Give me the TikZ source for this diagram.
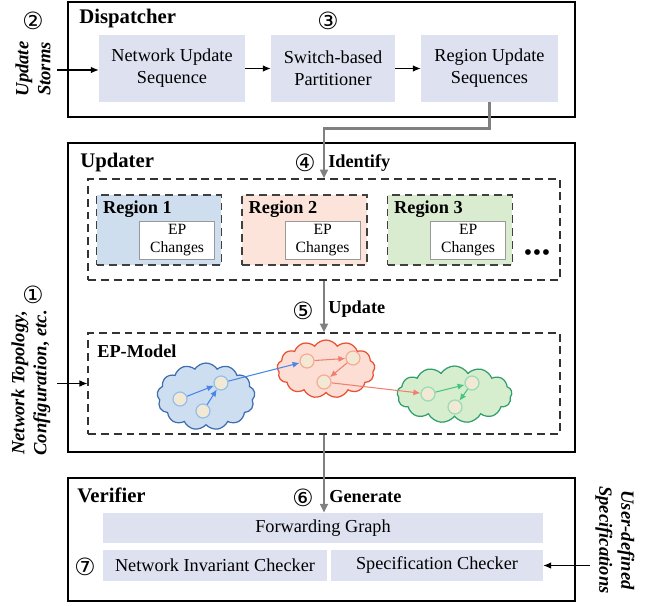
\documentclass[tikz,border=0pt]{standalone}
\usepackage{fontspec}
\setmainfont{Liberation Serif}
\newfontfamily\circfont{DejaVu Sans}
\usetikzlibrary{arrows.meta,calc,shapes.symbols}

\definecolor{boxLav}{RGB}{222,226,240}
\definecolor{regionBlue}{RGB}{207,222,238}
\definecolor{regionRed}{RGB}{252,228,218}
\definecolor{regionGreen}{RGB}{217,236,208}
\definecolor{cloudBlue}{RGB}{204,222,240}
\definecolor{cloudRed}{RGB}{253,222,212}
\definecolor{cloudGreen}{RGB}{214,237,206}
\definecolor{rimBlue}{RGB}{62,110,175}
\definecolor{rimRed}{RGB}{232,80,50}
\definecolor{rimGreen}{RGB}{46,158,106}
\definecolor{ringBlue}{RGB}{150,190,235}
\definecolor{ringRed}{RGB}{248,170,150}
\definecolor{ringGreen}{RGB}{150,220,180}
\definecolor{arrowBlue}{RGB}{74,134,232}
\definecolor{arrowRed}{RGB}{240,128,110}
\definecolor{arrowGreen}{RGB}{72,196,130}
\definecolor{nodeCream}{RGB}{242,233,212}
\definecolor{flowGray}{RGB}{128,128,128}

\begin{document}
\begin{tikzpicture}
[x=0.02cm,y=-0.02cm,
  stageBox/.style={draw,line width=1.6pt,inner sep=0pt,minimum width=10.14cm},%
  stageTitle/.style={anchor=base west,inner sep=0pt,font=\bfseries\fontsize{11.8}{13}\selectfont},%
  stepTitle/.style={anchor=base west,inner sep=0pt,font=\bfseries\fontsize{10.4}{12}\selectfont},%
  stepBox/.style={fill=boxLav,inner sep=0pt,align=center,minimum height=1.34cm,font=\fontsize{10.4}{12.5}\selectfont},%
  checkBox/.style={fill=boxLav,inner sep=0pt,minimum height=0.62cm,font=\fontsize{10.4}{12.5}\selectfont},%
  dashBox/.style={draw=black!80,dashed,dash pattern=on 4.5pt off 2.8pt,line width=0.75pt,inner sep=0pt,minimum width=9.44cm,minimum height=2.02cm},%
  regionBox/.style={draw=black!75,dash pattern=on 4.5pt off 2.8pt,line width=0.75pt,inner sep=0pt,minimum width=2.5cm,minimum height=1.4cm},%
  regionLabel/.style={anchor=base west,inner sep=0pt,font=\bfseries\fontsize{10.4}{12}\selectfont},%
  epBox/.style={draw=black!40,fill=white,line width=0.6pt,inner sep=0pt,align=center,minimum width=1.5cm,minimum height=0.76cm,font=\fontsize{8.9}{10.5}\selectfont},%
  cloudShape/.style={cloud,cloud puffs=13,cloud puff arc=115,cloud ignores aspect,line width=0.7pt,inner sep=0pt},%
  epNode/.style={shape=circle,fill=nodeCream,line width=0.7pt,inner sep=0pt,minimum size=0.28cm},%
  epArrow/.style={-{Latex[length=4pt,width=3.5pt]},line width=0.6pt},%
  darkArrow/.style={-{Latex[length=4.5pt,width=3.8pt]},line width=0.6pt},%
  grayArrow/.style={-{Triangle[length=5pt,width=4.5pt]},line width=1.4pt,color=flowGray},%
  stepNum/.style={inner sep=0pt,font=\circfont\fontsize{13.5}{14}\selectfont},%
  sideText/.style={inner sep=0pt,align=center,font=\bfseries\itshape\fontsize{10.6}{12.5}\selectfont}]
\useasboundingbox (0,0) rectangle (652,605);

%% stages
\node (dispatcher) at (321.5,59.5) [stageBox,minimum height=2.30cm] {};
\node (updater) at (321.5,297.5) [stageBox,minimum height=6.18cm] {};
\node (verifier) at (321.5,539.5) [stageBox,minimum height=2.46cm] {};
\node (dispTitle) at (79,23) [stageTitle] {Dispatcher};
\node (updTitle) at (80,167) [stageTitle] {Updater};
\node (verTitle) at (77,502) [stageTitle] {Verifier};

%% dispatcher steps
\node (nus) at (172,68.5) [stepBox,minimum width=2.92cm] {Network Update\\Sequence};
\node (sbp) at (333,68.5) [stepBox,minimum width=2.48cm] {Switch-based\\Partitioner};
\node (rus) at (489.5,68.5) [stepBox,minimum width=2.74cm] {Region Update\\Sequences};

%% regions
\node (regions) at (324,229.5) [dashBox] {};
\foreach \regname/\x/\regfill/\regnum in {regA/159/regionBlue/1, regB/304.5/regionRed/2, regC/450/regionGreen/3}
{
  \node (\regname) at (\x,230) [regionBox,fill=\regfill] {};
  \node (\regname-lbl) at ($(\regname.north west)+(7,19)$) [regionLabel] {Region \regnum};
  \node (\regname-ep) at ($(\regname.south east)+(-7,-6)$) [epBox,anchor=south east] {EP\\Changes};
}
\node (dots) at (537,255) [inner sep=0pt,font=\bfseries\fontsize{12}{12}\selectfont] {•\kern0.9pt•\kern0.9pt•};

%% EP-Model
\node (epmodel) at (324,383.5) [dashBox] {};
\node (epTitle) at (97,357) [stepTitle] {EP-Model};
\node (cloudA) at (206,396.5) [cloudShape,draw=rimBlue,fill=cloudBlue,minimum width=1.96cm,minimum height=1.34cm] {};
\node (cloudB) at (326,369) [cloudShape,draw=rimRed,fill=cloudRed,minimum width=1.96cm,minimum height=1.16cm] {};
\node (cloudC) at (454.5,394.5) [cloudShape,draw=rimGreen,fill=cloudGreen,minimum width=2.3cm,minimum height=1.14cm] {};
\foreach \nodename/\x/\y/\ring in {b1/180/399/ringBlue, b2/221/383/ringBlue, b3/203/411/ringBlue,
  r1/307/361/ringRed, r2/353/358/ringRed, r3/324/382/ringRed,
  g1/428/394/ringGreen, g2/472/383/ringGreen, g3/455/407/ringGreen}
{
  \node (\nodename) at (\x,\y) [epNode,draw=\ring] {};
}
\path
\foreach \startnode/\endnode/\col in {b1/b2/arrowBlue, b3/b2/arrowBlue, b2/r1/arrowBlue,
  r1/r2/arrowRed, r2/r3/arrowRed, r3/g1/arrowRed, g1/g2/arrowGreen, g2/g3/arrowGreen}
{
  (\startnode) edge[epArrow,draw=\col] (\endnode)
};

%% verifier steps
\node (fg) at (323,528) [checkBox,minimum width=8.8cm,minimum height=0.6cm] {Forwarding Graph};
\node (nic) at (215,565.5) [checkBox,minimum width=4.48cm] {Network Invariant Checker};
\node (spc) at (437,565.5) [checkBox,minimum width=4.24cm] {Specification Checker};

%% step labels
\node (n1) at (33,295) [stepNum] {①};
\node (n2) at (33,21) [stepNum] {②};
\node (n3) at (328,21) [stepNum] {③};
\node (n4) at (305,163) [stepNum] {④};
\node (n5) at (303,311) [stepNum] {⑤};
\node (n6) at (303,498) [stepNum] {⑥};
\node (n7) at (85,567) [stepNum] {⑦};
\node (identify) at (328,167) [stepTitle] {Identify};
\node (update) at (328,313) [stepTitle] {Update};
\node (generate) at (329,502) [stepTitle] {Generate};

%% inputs
\node (storms) at (33,69) [sideText,rotate=90] {Update\\Storms};
\node (topo) at (31,383) [sideText,rotate=90] {Network Topology,\\Configuration, etc.};
\node (specs) at (615,540) [sideText,rotate=-90] {User-defined\\Specifications};
\coordinate (stormIn) at (57,70);
\coordinate (topoIn) at (57,383.5);
\coordinate (specIn) at (590,565.5);

%% flow
\draw[darkArrow] (stormIn) -- (stormIn -| nus.west);
\draw[darkArrow] (nus) -- (sbp);
\draw[darkArrow] (sbp) -- (rus);
\draw[darkArrow] (topoIn) -- (epmodel.west);
\draw[darkArrow] (specIn) -- (spc.east);
\draw[grayArrow] (rus.south) -- ++(0,26) -| (regions.north);
\draw[grayArrow] (regions.south) -- (epmodel.north);
\draw[grayArrow] (epmodel.south) -- (epmodel.south |- fg.north);
\end{tikzpicture}
\end{document}
